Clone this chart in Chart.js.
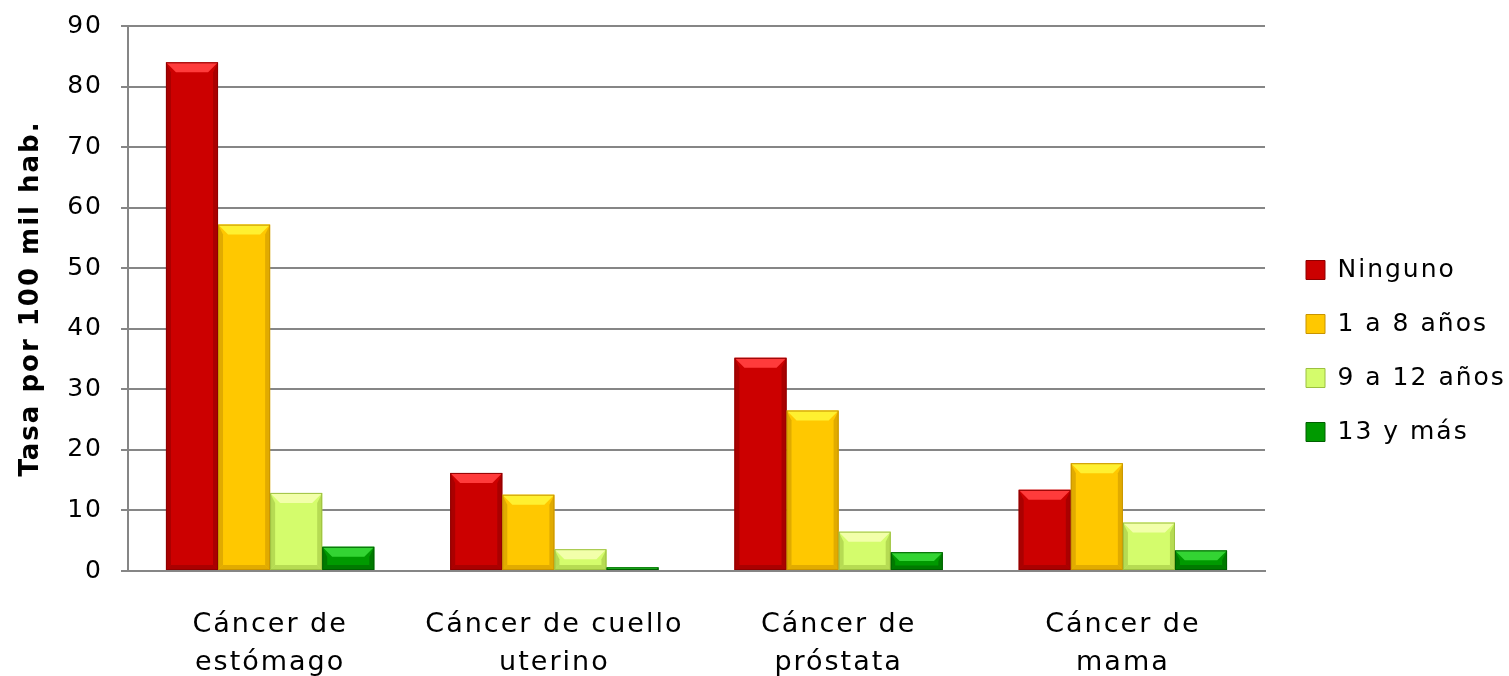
<!DOCTYPE html>
<html>
<head>
<meta charset="utf-8">
<script src="https://cdn.jsdelivr.net/npm/chart.js@4"></script>
<style>
html,body{margin:0;padding:0;background:#fff;}
#wrap{width:1509px;height:676px;position:relative;}
</style>
</head>
<body>
<div id="wrap"><canvas id="c"></canvas></div>
<script>
const categories = [["Cáncer de","estómago"],["Cáncer de cuello","uterino"],["Cáncer de","próstata"],["Cáncer de","mama"]];
const seriesNames = ["Ninguno","1 a 8 años","9 a 12 años","13 y más"];
const ninguno = [84.0, 16.2, 35.2, 13.4];
const anios1a8 = [57.2, 12.6, 26.5, 17.8];
const anios9a12 = [12.9, 3.6, 6.5, 8.0];
const anios13mas = [4.0, 0.6, 3.1, 3.4];
const yTicks = [0,10,20,30,40,50,60,70,80,90];
const yAxisTitle = "Tasa por 100 mil hab.";

const FONT = "'DejaVu Sans', sans-serif";
const palette = [
  {main:'#CC0000', light:'#FF3B3B', dark:'#8E0000'},
  {main:'#FFC800', light:'#FFF030', dark:'#C89400'},
  {main:'#D4FC6C', light:'#F2FFAA', dark:'#9CC040'},
  {main:'#009A00', light:'#33D433', dark:'#006000'}
];

const spacing = {
  id:'spacing',
  beforeUpdate(chart){ chart.ctx.letterSpacing = '2px'; },
  beforeLayout(chart){ chart.ctx.letterSpacing = '2px'; },
  beforeDraw(chart){ chart.ctx.letterSpacing = '2px'; },
  afterLayout(chart){
    const lg = chart.legend;
    const w = lg.width;
    lg.left = 1277; lg.right = lg.left + w;
  }
};

const bevel = {
  id:'bevel',
  afterDatasetsDraw(chart){
    const ctx = chart.ctx;
    chart.data.datasets.forEach((ds, di)=>{
      const meta = chart.getDatasetMeta(di);
      const p = palette[di];
      meta.data.forEach(bar=>{
        const {x, y, base, width} = bar.getProps(['x','y','base','width'], true);
        const l = x - width/2, r = x + width/2, t = y, b = base;
        const h = b - t;
        const bv = Math.min(10, h/2, width/2);
        if (h <= 0) return;
        ctx.save();
        ctx.fillStyle = p.light;
        ctx.beginPath(); ctx.moveTo(l,t); ctx.lineTo(r,t); ctx.lineTo(r-bv,t+bv); ctx.lineTo(l+bv,t+bv); ctx.closePath(); ctx.fill();
        ctx.globalAlpha = 0.55;
        ctx.fillStyle = p.dark;
        ctx.beginPath(); ctx.moveTo(l,t); ctx.lineTo(l+bv*0.5,t+bv); ctx.lineTo(l+bv*0.5,b-bv*0.5); ctx.lineTo(l,b); ctx.closePath(); ctx.fill();
        ctx.beginPath(); ctx.moveTo(r,t); ctx.lineTo(r-bv*0.5,t+bv); ctx.lineTo(r-bv*0.5,b-bv*0.5); ctx.lineTo(r,b); ctx.closePath(); ctx.fill();
        ctx.beginPath(); ctx.moveTo(l,b); ctx.lineTo(r,b); ctx.lineTo(r-bv*0.5,b-bv*0.5); ctx.lineTo(l+bv*0.5,b-bv*0.5); ctx.closePath(); ctx.fill();
        ctx.globalAlpha = 1;
        ctx.strokeStyle = p.dark; ctx.lineWidth = 1;
        ctx.strokeRect(l+0.5, t+0.5, width-1, h-1);
        ctx.restore();
      });
    });
  }
};

const allSeries = [ninguno, anios1a8, anios9a12, anios13mas];
const chart = new Chart(document.getElementById('c'), {
  type:'bar',
  data:{
    labels: categories,
    datasets: allSeries.map((d,i)=>({
      label: seriesNames[i],
      data: d,
      backgroundColor: palette[i].main,
      borderWidth: 0,
      barPercentage: 1.0,
      categoryPercentage: 0.733
    }))
  },
  plugins:[spacing, bevel],
  options:{
    responsive:true,
    maintainAspectRatio:false,
    animation:false,
    devicePixelRatio:1,
    layout:{padding:{top:26,left:0,right:0,bottom:0}},
    plugins:{
      tooltip:{enabled:false},
      legend:{
        position:'right',
        labels:{
          font:{family:FONT,size:25},
          color:'#000',
          boxWidth:19,
          boxHeight:19,
          padding:29,
          generateLabels(chart){
            return chart.data.datasets.map((ds,i)=>({
              text: ds.label, fillStyle: palette[i].main, strokeStyle: palette[i].dark,
              lineWidth:1, hidden:false, datasetIndex:i, fontColor:'#000'
            }));
          }
        }
      }
    },
    scales:{
      x:{
        grid:{display:false},
        border:{display:true,color:'#868686',width:2},
        ticks:{font:{family:FONT,size:27,lineHeight:1.4},color:'#000',padding:27,maxRotation:0,autoSkip:false},
        afterFit(s){ s.height = 105; }
      },
      y:{
        min:0,max:90,
        afterBuildTicks(s){ s.ticks = yTicks.map(v=>({value:v})); },
        grid:{color:'#868686',lineWidth:2,tickLength:7,drawTicks:true},
        border:{display:true,color:'#868686',width:2},
        ticks:{font:{family:FONT,size:25},color:'#000',padding:18},
        title:{display:true,text:yAxisTitle,font:{family:FONT,size:26,weight:'bold'},color:'#000',padding:{top:16,bottom:0}},
        afterFit(s){ s.width = 128; s.paddingTop = 0; s.paddingBottom = 0; }
      }
    }
  }
});
// keep the legend compact so the plot area reaches the same right edge as the original
const origFit = chart.legend.fit;
chart.legend.fit = function(){ origFit.call(this); this.width = 1509 - 1265; };
chart.update();
</script>
</body>
</html>
